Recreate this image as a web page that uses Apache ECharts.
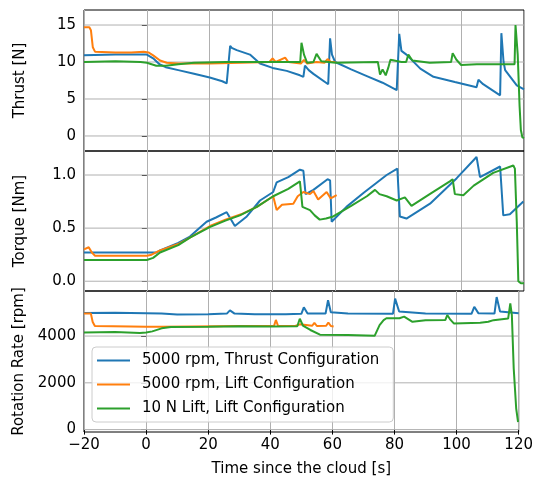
<!DOCTYPE html>
<html>
<head>
<meta charset="utf-8">
<script src="https://cdn.jsdelivr.net/npm/echarts@6.0.0/dist/echarts.min.js"></script>
<style>
    html, body { margin: 0; padding: 0; background: #fff; }
    #chart { width: 536px; height: 480px; }
</style>
</head>
<body>
<div id="chart"></div>
<script>
// series names
var seriesNames = ['5000 rpm, Thrust Configuration', '5000 rpm, Lift Configuration', '10 N Lift, Lift Configuration'];

// Thrust [N] vs time [s]
var thrustThrustCfg = [[-20, 10.9], [-10, 11.0], [-1, 11.0], [0, 11.0], [2, 10.5], [4, 9.7], [6, 9.3], [10, 8.9], [15, 8.4], [20, 7.9], [24, 7.4], [25.4, 7.1], [26.5, 12.2], [27, 11.9], [28.6, 11.6], [32.8, 11.0], [36, 9.8], [40, 9.2], [44.5, 8.8], [48.7, 8.2], [49.8, 8.0], [50.3, 9.5], [51.5, 8.9], [53, 8.4], [57.7, 7.0], [58.3, 13.2], [58.9, 11.0], [59.9, 10.0], [65, 9.0], [70, 8.1], [75, 7.2], [79.5, 6.2], [80.3, 13.8], [81, 11.5], [82.6, 11.0], [87, 9.1], [91.2, 8.0], [98, 7.3], [104.9, 6.6], [105.5, 7.6], [107, 7.0], [112.4, 5.5], [112.8, 13.9], [113.5, 10.0], [114, 8.9], [117.7, 6.85], [120, 6.3]];
var thrustLiftCfg = [[-20, 14.7], [-18.3, 14.7], [-17.8, 14.3], [-17.2, 12.0], [-16.5, 11.4], [-10, 11.3], [-5, 11.3], [-1, 11.4], [0.5, 11.3], [2, 10.9], [4.2, 10.2], [6.3, 9.9], [10, 9.8], [20, 9.8], [30, 9.9], [39, 10.0], [40, 10.5], [41, 10.0], [44, 10.6], [45, 10.0], [49, 9.8], [50, 10.3], [51, 9.8], [54, 10.0], [56.5, 9.9], [57.5, 10.4], [58.5, 10.0], [60, 10.0]];
var thrust10N = [[-20, 10.0], [-10, 10.1], [-2, 10.0], [0, 9.9], [3, 9.5], [6, 9.5], [10, 9.7], [15, 9.9], [25, 10.0], [35, 10.0], [45, 10.0], [48.8, 10.0], [49.2, 12.6], [50, 11.0], [51, 9.9], [53, 10.0], [54, 11.1], [55.5, 10.1], [60, 9.9], [73.5, 10.0], [74.2, 8.3], [75, 9.0], [76, 8.2], [76.8, 9.2], [77.5, 10.3], [78, 10.5], [81, 10.0], [82.5, 10.0], [83.2, 11.0], [84.5, 10.2], [90, 9.9], [96.8, 10.0], [97.3, 11.2], [98.5, 10.3], [100, 9.6], [105, 9.7], [110, 9.7], [117, 9.7], [117.3, 15.0], [118, 11.0], [118.6, 4.0], [119, 0.8], [119.5, -0.2], [120, -0.3]];

// Torque [Nm] vs time [s]
var torqueThrustCfg = [[-20, 0.27], [3, 0.27], [4.2, 0.29], [10, 0.36], [13.7, 0.42], [19, 0.56], [22, 0.60], [25.4, 0.65], [28, 0.52], [31.8, 0.61], [36, 0.76], [40.2, 0.84], [41.3, 0.93], [45, 0.98], [48.7, 1.05], [49.8, 1.04], [50.5, 0.82], [53, 0.86], [57.5, 0.96], [58.3, 0.95], [58.8, 0.56], [63.5, 0.70], [68.9, 0.83], [76.3, 1.0], [79.7, 1.06], [80.5, 0.61], [82.6, 0.59], [90.1, 0.73], [98.6, 0.97], [104.9, 1.17], [106, 0.98], [112.4, 1.08], [113.4, 0.62], [115.5, 0.63], [119.8, 0.75], [120, 0.75]];
var torqueLiftCfg = [[-20, 0.30], [-18.5, 0.32], [-17.5, 0.27], [-16.5, 0.24], [-10, 0.24], [0, 0.24], [1.5, 0.25], [4.2, 0.29], [10, 0.35], [13.7, 0.41], [20.1, 0.52], [25, 0.58], [30, 0.63], [35, 0.70], [40.2, 0.80], [41.3, 0.67], [43, 0.72], [46.6, 0.73], [48, 0.80], [49.8, 0.84], [51.9, 0.82], [53, 0.85], [54.5, 0.77], [57.2, 0.84], [58.5, 0.78], [60.4, 0.81]];
var torque10N = [[-20, 0.20], [-5, 0.20], [0, 0.20], [2, 0.22], [4.2, 0.27], [10, 0.34], [13.7, 0.41], [20, 0.51], [25, 0.57], [29.6, 0.62], [35, 0.70], [40.2, 0.80], [45, 0.87], [48.7, 0.94], [49.5, 0.70], [51.9, 0.67], [53.4, 0.62], [55, 0.58], [57, 0.59], [59.3, 0.61], [65, 0.71], [70, 0.80], [72.6, 0.86], [74, 0.82], [76.3, 0.80], [79.5, 0.76], [82.1, 0.79], [84.2, 0.71], [90, 0.82], [96.4, 0.94], [97.3, 0.96], [98, 0.82], [100.7, 0.81], [104, 0.90], [110.2, 1.02], [116.6, 1.09], [117.1, 1.06], [117.7, 0.56], [118.2, 0.0], [119, -0.02], [120, -0.02]];

// Rotation rate [rpm] vs time [s]
var rpmThrustCfg = [[-20, 4990], [-10, 5000], [0, 4980], [5, 4960], [10, 4920], [20, 4930], [26, 4960], [27, 5100], [28.5, 4960], [35, 4930], [45, 4930], [50, 4950], [50.8, 5230], [52, 4960], [57.8, 4960], [58.6, 5530], [59.5, 5020], [65, 4960], [79.5, 4950], [80.2, 5600], [81.5, 5050], [90, 4960], [104.8, 4950], [105.7, 5250], [107, 4980], [112.2, 4960], [112.9, 5670], [114, 5050], [120, 4980]];
var rpmLiftCfg = [[-20, 4960], [-17.8, 4970], [-17.2, 4600], [-16.5, 4430], [-5, 4410], [0, 4400], [5, 4400], [15, 4410], [30, 4430], [41.2, 4430], [41.8, 4690], [42.5, 4430], [48, 4430], [49.5, 4500], [50, 4430], [53.5, 4440], [54.2, 4570], [55, 4430], [58, 4440], [58.7, 4580], [59.5, 4430], [60.4, 4410]];
var rpm10N = [[-20, 4150], [-10, 4170], [-2, 4130], [0, 4150], [2, 4200], [5, 4330], [8, 4390], [20, 4400], [30, 4420], [40, 4410], [48.7, 4420], [49.5, 4740], [50.5, 4450], [52.9, 4260], [56, 4060], [65, 4050], [73.6, 4010], [75.2, 4470], [76.5, 4680], [77.4, 4760], [81.6, 4760], [83.1, 4830], [85.8, 4610], [90, 4680], [96.4, 4690], [97, 4900], [98, 4700], [99.1, 4540], [107.6, 4570], [110.2, 4610], [111.9, 4680], [116.6, 4750], [117.3, 5400], [117.8, 4900], [118.4, 2610], [119.2, 900], [119.8, 325]];

// tick labels
var xRange = [-20, 120];
var thrustTicks = [0, 5, 10, 15];
var torqueTicks = [0, 0.5, 1.0];
var rpmTicks = [0, 2000, 4000];

var colors = ['#1f77b4', '#ff7f0e', '#2ca02c'];
var font = 'DejaVu Sans';
var gridColor = '#b0b0b0';

var panels = [
    { top: 10, height: 141, min: -2.03, max: 17.03, ticks: thrustTicks, name: 'Thrust [N]', data: [thrustThrustCfg, thrustLiftCfg, thrust10N], fmt: function (v) { return String(v); } },
    { top: 151, height: 140, min: -0.092, max: 1.226, ticks: torqueTicks, name: 'Torque [Nm]', data: [torqueThrustCfg, torqueLiftCfg, torque10N], fmt: function (v) { return v.toFixed(1); } },
    { top: 291, height: 141, min: -103, max: 5927, ticks: rpmTicks, name: 'Rotation Rate [rpm]', data: [rpmThrustCfg, rpmLiftCfg, rpm10N], fmt: function (v) { return String(v); } }
];

var grids = [], xAxes = [], yAxes = [], series = [];

for (var i = 0; i < panels.length; i++) {
    var p = panels[i];
    var last = (i == panels.length - 1);
    grids.push({
        left: 84, width: 440, top: p.top, height: p.height,
        show: true, borderColor: '#000', borderWidth: 1, backgroundColor: 'transparent'
    });
    xAxes.push({
        gridIndex: i, type: 'value', min: xRange[0], max: xRange[1], interval: 20,
        axisLine: { show: false },
        axisTick: { show: last, length: 5, lineStyle: { color: '#000' } },
        axisLabel: {
            show: last, margin: 6, color: '#000', fontFamily: font, fontSize: 15,
            formatter: function (v) { return v < 0 ? '\u2212' + (-v) : String(v); }
        },
        splitLine: { show: true, lineStyle: { color: gridColor, width: 1 } },
        name: last ? 'Time since the cloud [s]' : '',
        nameLocation: 'middle', nameGap: 30,
        nameTextStyle: { color: '#000', fontFamily: font, fontSize: 15 }
    });
    yAxes.push({
        gridIndex: i, type: 'value', min: p.min, max: p.max,
        axisLine: { show: false },
        axisTick: { show: true, length: 5, customValues: p.ticks, lineStyle: { color: '#000' } },
        axisLabel: { margin: 8, color: '#000', fontFamily: font, fontSize: 15, customValues: p.ticks, formatter: p.fmt },
        splitLine: { show: false },
        name: p.name, nameLocation: 'middle', nameGap: 56,
        nameTextStyle: { color: '#000', fontFamily: font, fontSize: 15 }
    });
    // horizontal grid lines at the y tick values, drawn through the axes
    for (var t = 0; t < p.ticks.length; t++) {
        series.push({
            type: 'line', name: 'grid' + i + '_' + t, silent: true,
            xAxisIndex: i, yAxisIndex: i,
            data: [[xRange[0], p.ticks[t]], [xRange[1], p.ticks[t]]],
            showSymbol: false, symbol: 'none',
            lineStyle: { color: gridColor, width: 1 },
            emphasis: { disabled: true },
            tooltip: { show: false },
            z: 1
        });
    }
    for (var k = 0; k < 3; k++) {
        series.push({
            name: seriesNames[k], type: 'line',
            xAxisIndex: i, yAxisIndex: i,
            data: p.data[k],
            showSymbol: false, symbol: 'none',
            color: colors[k],
            lineStyle: { color: colors[k], width: 2 },
            z: 3 + k
        });
    }
}

var chart = echarts.init(document.getElementById('chart'), null, { renderer: 'canvas' });

var option = {
    animation: false,
    backgroundColor: '#fff',
    grid: grids,
    xAxis: xAxes,
    yAxis: yAxes,
    legend: {
        data: seriesNames,
        orient: 'vertical',
        left: 92, top: 347,
        padding: [5, 14, 5, 5],
        itemWidth: 33, itemHeight: 2, itemGap: 7,
        icon: 'rect',
        backgroundColor: 'rgba(255,255,255,0.8)',
        borderColor: '#cccccc', borderWidth: 1, borderRadius: 4,
        z: 20,
        textStyle: { color: '#000', fontFamily: font, fontSize: 15, lineHeight: 17, padding: [0, 0, 0, 7] }
    },
    series: series
};

chart.setOption(option);
</script>
</body>
</html>
